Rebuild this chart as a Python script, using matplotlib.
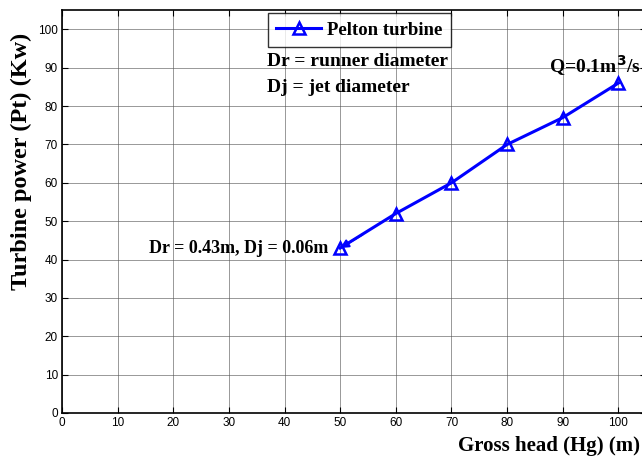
import matplotlib
matplotlib.use("Agg")
import matplotlib.pyplot as plt

# gross head (m) vs turbine power (kW)
head = [50, 60, 70, 80, 90, 100]
power = [43, 52, 60, 70, 77, 86]
x_ticks = [0, 10, 20, 30, 40, 50, 60, 70, 80, 90, 100]
y_ticks = [0, 10, 20, 30, 40, 50, 60, 70, 80, 90, 100]

serif = "Liberation Serif"
sans = "Liberation Sans"

fig = plt.figure(figsize=(6.42, 4.63), dpi=100)
ax = fig.add_axes([0.0966, 0.108, 0.910, 0.870])

ax.plot(head, power, color="#0000ff", lw=2.2, marker="^", ms=8,
        mfc="none", mec="#0000ff", mew=1.8, label="Pelton turbine")

ax.set_xlim(0, 105)
ax.set_ylim(0, 105)
ax.set_xticks(x_ticks)
ax.set_yticks(y_ticks)
for lab in ax.get_xticklabels() + ax.get_yticklabels():
    lab.set_fontfamily(sans)
    lab.set_fontsize(8.5)
ax.tick_params(direction="in", length=4, width=0.8, top=True, right=True,
               labeltop=False, labelright=False, pad=3)
ax.grid(True, color="#555555", lw=0.7, alpha=0.6)
for s in ax.spines.values():
    s.set_linewidth(1.2)

ax.set_xlabel("Gross head (Hg) (m)", fontfamily=serif, fontweight="bold",
              fontsize=15)
ax.xaxis.set_label_coords(0.99, -0.057)
ax.xaxis.label.set_ha("right")
ax.set_ylabel("Turbine power (Pt) (Kw)", fontfamily=serif, fontweight="bold",
              fontsize=17.5)
ax.yaxis.set_label_coords(-0.07, 0.625)
ax.yaxis.label.set_va("center")

leg = ax.legend(loc="upper left", bbox_to_anchor=(0.352, 0.993),
                prop={"family": serif, "weight": "bold", "size": 13.5},
                frameon=True, fancybox=False, edgecolor="black",
                handlelength=2.4, handletextpad=0.3, borderpad=0.45,
                borderaxespad=0)
leg.get_frame().set_linewidth(1.0)

ax.text(36.9, 91.7, "Dr = runner diameter", fontfamily=serif,
        fontweight="bold", fontsize=14, va="center", ha="left")
ax.text(36.9, 84.9, "Dj = jet diameter", fontfamily=serif,
        fontweight="bold", fontsize=14, va="center", ha="left")
ax.text(104.0, 90.6, "Q=0.1m$^{\\mathbf{3}}$/s", fontfamily=serif,
        fontweight="bold", fontsize=14, va="center", ha="right")

ax.annotate("", xy=(head[0], power[0]), xytext=(54, 46.5),
            arrowprops=dict(arrowstyle="-|>", color="#0000ff", lw=1.5,
                            mutation_scale=12, shrinkA=0, shrinkB=0))
ax.text(47.8, 43, "Dr = 0.43m, Dj = 0.06m", fontfamily=serif,
        fontweight="bold", fontsize=13, va="center", ha="right")

fig.savefig("out.png", dpi=100)
